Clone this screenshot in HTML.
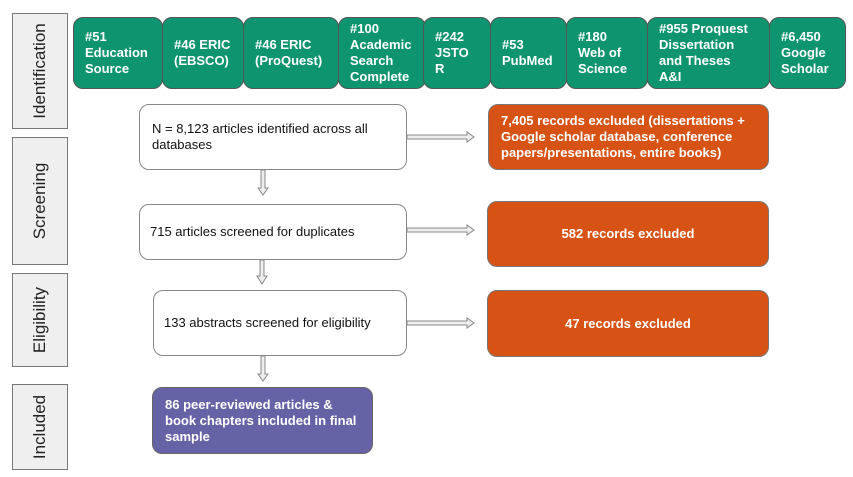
<!DOCTYPE html>
<html><head><meta charset="utf-8"><style>
body{margin:0;width:853px;height:477px;background:#fff;position:relative;overflow:hidden;font-family:"Liberation Sans",Arial,sans-serif}
.b{position:absolute;box-sizing:border-box}
.side{background:#efefef;border:1px solid #777;}
.side span{position:absolute;left:50%;top:50%;transform:translate(-50%,-50%) rotate(-90deg);font-size:17px;color:#222;white-space:nowrap}
.g{background:#0f9470;border:1px solid #555;border-radius:10px;color:#fff;font-weight:bold;font-size:13px;line-height:16px;display:flex;align-items:center;padding-left:11px}
.w{background:#fff;border:1px solid #888;border-radius:10px;font-size:13px;line-height:16px;color:#111;display:flex;align-items:center;padding-left:10px}
.o{background:#d75215;border:1px solid #777;border-radius:10px;color:#fff;font-weight:bold;font-size:13px;line-height:16px;display:flex;align-items:center;padding-left:12px}
.p{background:#6662a6;border:1px solid #666;border-radius:10px;color:#fff;font-weight:bold;font-size:13px;line-height:16px;display:flex;align-items:center;padding-left:12px}
</style></head><body>
<div class="b side" style="left:12px;top:13px;width:56px;height:116px"><span>Identification</span></div>
<div class="b side" style="left:12px;top:137px;width:56px;height:128px"><span>Screening</span></div>
<div class="b side" style="left:12px;top:273px;width:56px;height:94px"><span>Eligibility</span></div>
<div class="b side" style="left:12px;top:384px;width:56px;height:86px"><span>Included</span></div>

<div class="b g" style="left:73px;top:17px;width:90px;height:72px">#51<br>Education<br>Source</div>
<div class="b g" style="left:162px;top:17px;width:82px;height:72px">#46 ERIC<br>(EBSCO)</div>
<div class="b g" style="left:243px;top:17px;width:96px;height:72px">#46 ERIC<br>(ProQuest)</div>
<div class="b g" style="left:338px;top:17px;width:88px;height:72px">#100<br>Academic<br>Search<br>Complete</div>
<div class="b g" style="left:423px;top:17px;width:68px;height:72px">#242<br>JSTO<br>R</div>
<div class="b g" style="left:490px;top:17px;width:77px;height:72px">#53<br>PubMed</div>
<div class="b g" style="left:566px;top:17px;width:82px;height:72px">#180<br>Web of<br>Science</div>
<div class="b g" style="left:647px;top:17px;width:123px;height:72px">#955 Proquest<br>Dissertation<br>and Theses<br>A&amp;I</div>
<div class="b g" style="left:769px;top:17px;width:77px;height:72px">#6,450<br>Google<br>Scholar</div>

<div class="b w" style="left:139px;top:104px;width:268px;height:66px;padding-left:12px">N = 8,123 articles identified across all<br>databases</div>
<div class="b w" style="left:139px;top:204px;width:268px;height:56px">715 articles screened for duplicates</div>
<div class="b w" style="left:153px;top:290px;width:254px;height:66px">133 abstracts screened for eligibility</div>
<div class="b p" style="left:152px;top:387px;width:221px;height:67px">86 peer-reviewed articles &amp;<br>book chapters included in final<br>sample</div>

<div class="b o" style="left:488px;top:104px;width:281px;height:66px">7,405 records excluded (dissertations +<br>Google scholar database, conference<br>papers/presentations, entire books)</div>
<div class="b o" style="left:487px;top:201px;width:282px;height:66px;justify-content:center;padding-left:0">582 records excluded</div>
<div class="b o" style="left:487px;top:290px;width:282px;height:67px;justify-content:center;padding-left:0">47 records excluded</div>

<svg class="b" style="left:0;top:0" width="853" height="477">
<g fill="#eee" stroke="#888" stroke-width="1">
<path d="M261,170 V188 H258 L263,195 L268,188 H265 V170 Z"/>
<path d="M260,260 V276 H257 L262,284 L267,276 H264 V260 Z"/>
<path d="M261,356 V374 H258 L263,381 L268,374 H265 V356 Z"/>
<path d="M407,135 H467 V132 L474,137 L467,142 V139 H407 Z"/>
<path d="M407,228 H467 V225 L474,230 L467,235 V232 H407 Z"/>
<path d="M407,321 H467 V318 L474,323 L467,328 V325 H407 Z"/>
</g></svg>
</body></html>
